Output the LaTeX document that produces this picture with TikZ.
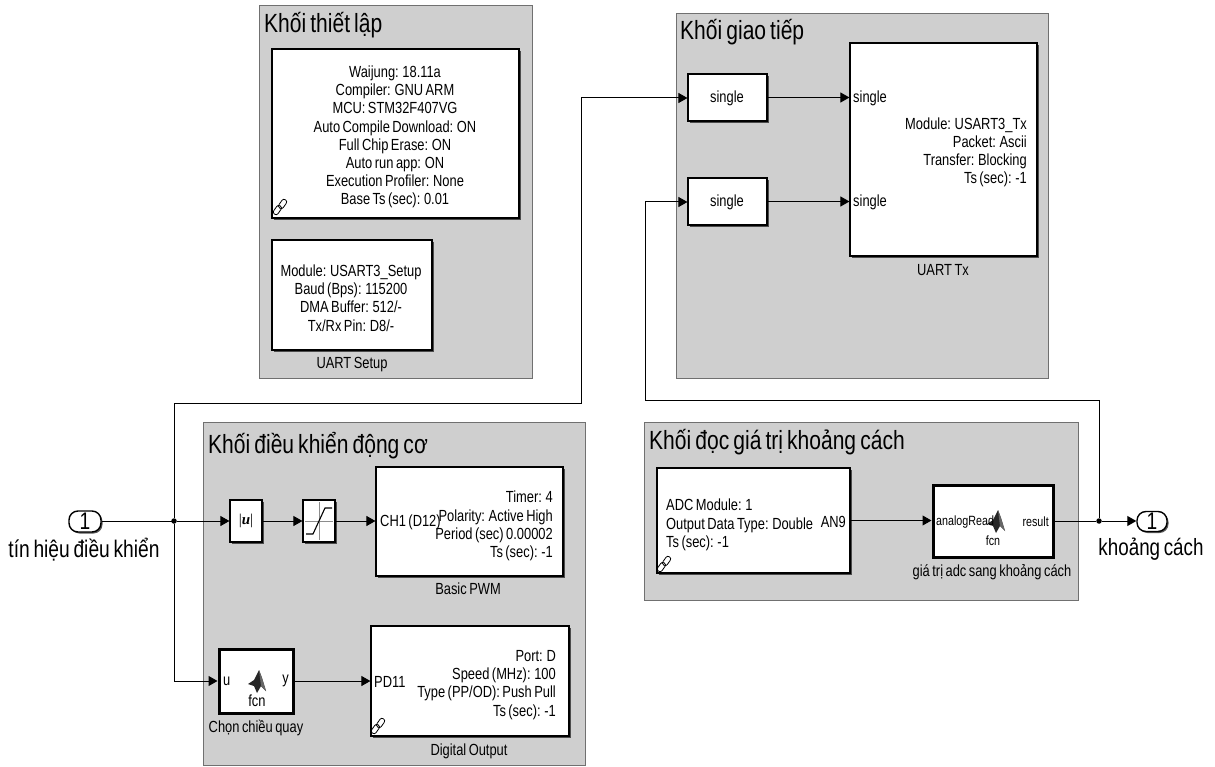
\documentclass[tikz,border=0pt]{standalone}
\usepackage{fontspec}
\setmainfont[FakeStretch=0.8,WordSpace=0.7]{Liberation Sans}
\newfontfamily\serifbi{Liberation Serif}
\usetikzlibrary{arrows.meta,shadows,calc}
\definecolor{panelgray}{HTML}{CFCFCF}
\definecolor{panelline}{HTML}{707070}
\tikzset{
  panel/.style={draw=panelline,fill=panelgray,line width=1pt,anchor=north west,inner sep=0pt},
  blockbox/.style={draw=black,fill=white,line width=1.2pt,inner sep=0pt,
    general shadow={shadow xshift=2pt,shadow yshift=-2pt,fill=black!70}},
  fcnbox/.style={blockbox,line width=3pt},
  title/.style={anchor=west,inner sep=0pt,font=\fontsize{26.3}{28}\selectfont},
  txt/.style={inner sep=0pt,font=\fontsize{16.1}{18.2}\selectfont,align=center},
  rtxt/.style={txt,align=right,anchor=east},
  ltxt/.style={txt,align=left,anchor=west},
  smalltxt/.style={inner sep=0pt,font=\fontsize{13.4}{15}\selectfont},
  porttxt/.style={inner sep=0pt,font=\fontsize{24}{26}\selectfont},
  portbox/.style={draw=black,fill=white,line width=1.4pt,rounded corners=9pt,inner sep=0pt,
    general shadow={shadow xshift=1.5pt,shadow yshift=-1.5pt,fill=black!65},font=\fontsize{24}{24}\selectfont},
  wire/.style={draw=black,line width=1pt,-{Triangle[length=9pt,width=10pt]}},
  plainwire/.style={draw=black,line width=1pt},
  dot/.style={circle,fill=black,inner sep=0pt,minimum size=5.5pt},
}
% small chain-link icon
\newcommand{\linkicon}[1]{%
  \begin{scope}[shift={(#1)},rotate=55,line width=.8pt,draw=black]
    \draw[rounded corners=2.4pt] (-9,-3) rectangle (1,2.2);
    \draw[rounded corners=2.4pt] (-1,-2.2) rectangle (9,3);
  \end{scope}}
% small MATLAB-like membrane icon
\newcommand{\matlabicon}[1]{%
  \begin{scope}[shift={(#1)}]
    \fill[black!85] (-9,2) -- (-3,-2) -- (2,-12) -- (5,-4) -- (9,9) -- (4,4) -- (0,11) -- (-3,4) -- cycle;
    \fill[black!60] (2,-12) -- (5,-4) -- (9,9) -- (4,4) -- cycle;
  \end{scope}}
\begin{document}
\begin{tikzpicture}[x=1pt,y=-1pt]
\useasboundingbox (0,0) rectangle (1215,767);
% panels
\node[panel,minimum width=273pt,minimum height=373pt] (pA) at (259,5) {};
\node[panel,minimum width=372pt,minimum height=365pt] (pB) at (676,13) {};
\node[panel,minimum width=382pt,minimum height=343pt] (pC) at (203,422) {};
\node[panel,minimum width=434pt,minimum height=178pt] (pD) at (644,422) {};
\node[title] (tA) at (264,25) {Khối thiết lập};
\node[title] (tB) at (680,32) {Khối giao tiếp};
\node[title] (tC) at (208,446) {Khối điều khiển động cơ};
\node[title] (tD) at (649,442) {Khối đọc giá trị khoảng cách};
% setup
\node[blockbox,minimum width=247pt,minimum height=169pt] (waijung) at (395.5,133.5) {};
\node[txt] (waijungt) at (395,137)
  {Waijung: 18.11a\\Compiler: GNU ARM\\MCU: STM32F407VG\\Auto Compile Download: ON\\Full Chip Erase: ON\\Auto run app: ON\\Execution Profiler: None\\Base Ts (sec): 0.01};
\linkicon{280,207}
\node[blockbox,minimum width=160pt,minimum height=110pt] (usetup) at (352,295) {};
\node[txt] (usetupt) at (351,298)
  {Module: USART3\_Setup\\Baud (Bps): 115200\\DMA Buffer: 512/-\\Tx/Rx Pin: D8/-};
\node[txt] (usetupl) at (352,365) {UART Setup};
% comm
\node[blockbox,minimum width=79pt,minimum height=47pt] (s1) at (727.5,97.5) {};
\node[txt] (s1t) at (727,98) {single};
\node[blockbox,minimum width=79pt,minimum height=47pt] (s2) at (727.5,201.5) {};
\node[txt] (s2t) at (727,202) {single};
\node[blockbox,minimum width=187pt,minimum height=213pt] (tx) at (943.5,149.5) {};
\node[txt,anchor=west] (txa) at (853,98) {single};
\node[txt,anchor=west] (txb) at (853,202) {single};
\node[rtxt] (txc) at (1027,152.5) {Module: USART3\_Tx\\Packet: Ascii\\Transfer: Blocking\\Ts (sec): -1};
\node[txt] (txl) at (943,270) {UART Tx};
% motor
\node[blockbox,minimum width=32pt,minimum height=42pt] (abs) at (246,521) {\fontsize{15}{15}\selectfont\serifbi |\textit{\textbf{u}}|};
\node[blockbox,minimum width=32pt,minimum height=42pt] (sat) at (319,521) {};
\begin{scope}[shift={(sat.center)}]
  \draw[black!45,line width=.8pt] (-14,0) -- (14,0) (0,-19) -- (0,19);
  \draw[black,line width=1.1pt] (-13,13) -- (-6,13) -- (6,-13) -- (13,-13);
\end{scope}
\node[blockbox,minimum width=187pt,minimum height=109pt] (pwm) at (469.5,521.5) {};
\node[ltxt] (pwma) at (380,522) {CH1 (D12)};
\node[rtxt] (pwmb) at (553,526) {Timer: 4\\Polarity: Active High\\Period (sec) 0.00002\\Ts (sec): -1};
\node[txt] (pwml) at (468,589) {Basic PWM};
\node[fcnbox,minimum width=74pt,minimum height=64pt] (fc1) at (256,681) {};
\node[txt,anchor=west] (fc1u) at (223,681) {u};
\node[txt,anchor=east] (fc1y) at (289,681) {y};
\matlabicon{257,682}
\node[txt] (fc1f) at (257,701) {fcn};
\node[txt] (fc1l) at (256,728) {Chọn chiều quay};
\node[blockbox,minimum width=198pt,minimum height=110pt] (dout) at (470,681) {};
\node[ltxt] (douta) at (374,682) {PD11};
\node[rtxt] (doutb) at (556,685) {Port: D\\Speed (MHz): 100\\Type (PP/OD): Push Pull\\Ts (sec): -1};
\linkicon{378,726}
\node[txt] (doutl) at (469,751) {Digital Output};
% distance
\node[blockbox,minimum width=193pt,minimum height=105pt] (adc) at (753.5,520.5) {};
\node[ltxt] (adca) at (666,525) {ADC Module: 1\\Output Data Type: Double\\Ts (sec): -1};
\node[txt,anchor=east] (adcb) at (846,522) {AN9};
\linkicon{664,564}
\node[fcnbox,minimum width=120pt,minimum height=72pt] (fc2) at (993,521) {};
\matlabicon{996,522}
\node[smalltxt,anchor=west] (fc2a) at (936,522) {analogRead};
\node[smalltxt,anchor=east] (fc2b) at (1049,522) {result};
\node[smalltxt] (fc2f) at (993,541) {fcn};
\node[txt] (fc2l) at (992,572) {giá trị adc sang khoảng cách};
% ports
\node[portbox,minimum width=32pt,minimum height=21pt] (in) at (85,521.5) {1};
\node[porttxt] (inl) at (84,550) {tín hiệu điều khiển};
\node[portbox,minimum width=30pt,minimum height=20pt] (out) at (1152,521.5) {1};
\node[porttxt,font=\fontsize{23.5}{26}\selectfont] (outl) at (1151,549) {khoảng cách};
% junctions
\node[dot] (j1) at (174,521) {};
\node[dot] (j2) at (1099,521) {};
\coordinate (b1) at (174,403);
\coordinate (b2) at (581,403);
\coordinate (b3) at (581,98);
\coordinate (b4) at (1099,400);
\coordinate (b5) at (645,400);
\coordinate (b6) at (645,202);
% wires
\draw[plainwire] (in.east) -- (in.east -| j1);
\draw[wire] (j1) -- (abs.west);
\draw[wire] (abs.east) -- (sat.west);
\draw[wire] (sat.east) -- (sat.east -| pwm.west);
\draw[wire] (j1) |- (fc1.west);
\draw[wire] (fc1.east) -- (fc1.east -| dout.west);
\draw[wire] (j1) -- (b1) -- (b2) -- (b3) -- (b3 -| s1.west);
\draw[wire] (s1.east) -- (s1.east -| tx.west);
\draw[wire] (s2.east) -- (s2.east -| tx.west);
\draw[wire] (adc.east) -- (adc.east -| fc2.west);
\draw[plainwire] (fc2.east) -- (j2);
\draw[wire] (j2) -- (j2 -| out.west);
\draw[wire] (j2) -- (b4) -- (b5) -- (b6) -- (b6 -| s2.west);
\end{tikzpicture}
\end{document}
